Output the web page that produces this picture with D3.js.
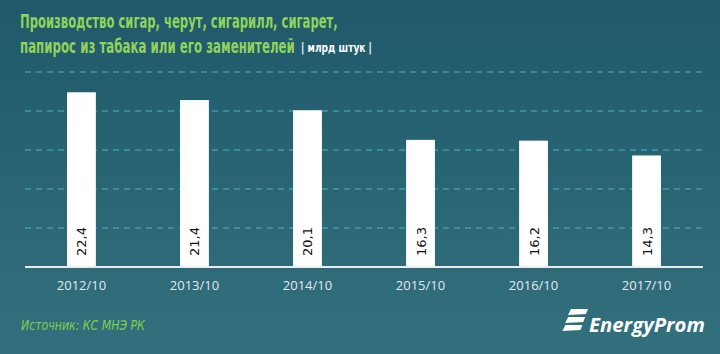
<!DOCTYPE html>
<html>
<head>
<meta charset="utf-8">
<script src="https://cdn.jsdelivr.net/npm/d3@7"></script>
<style>
  body { margin: 0; }
  svg { display: block; }
</style>
</head>
<body>
<svg id="svg" width="720" height="354"></svg>
<script>
// данные
var periods = ['2012/10', '2013/10', '2014/10', '2015/10', '2016/10', '2017/10'];
var values = [22.4, 21.4, 20.1, 16.3, 16.2, 14.3];
var gridTicks = [5, 10, 15, 20, 25];

var svg = d3.select('#svg');
var W = 720, H = 354;

// текст, сжатый по ширине через transform (узкий шрифт как в оригинале)
function fitText(sel, x, y, width) {
    var w = sel.node().getComputedTextLength();
    sel.attr('x', 0).attr('y', 0)
        .attr('transform', 'translate(' + x + ',' + y + ') scale(' + (width / w) + ',1)');
    return sel;
}

// фон
var defs = svg.append('defs');
var grad = defs.append('linearGradient').attr('id', 'bg')
    .attr('x1', 0).attr('y1', 0).attr('x2', 0).attr('y2', 1);
grad.append('stop').attr('offset', '0%').attr('stop-color', '#1f596a');
grad.append('stop').attr('offset', '100%').attr('stop-color', '#33707d');
svg.append('rect').attr('width', W).attr('height', H).attr('fill', 'url(#bg)');

// заголовок
fitText(svg.append('text')
    .attr('font-family', 'DejaVu Sans Condensed, DejaVu Sans')
    .attr('font-weight', 'bold').attr('font-size', 20)
    .attr('fill', '#8fd35a')
    .text('Производство сигар, черут, сигарилл, сигарет,'), 20, 28, 318);
fitText(svg.append('text')
    .attr('font-family', 'DejaVu Sans Condensed, DejaVu Sans')
    .attr('font-weight', 'bold').attr('font-size', 20)
    .attr('fill', '#8fd35a')
    .text('папирос из табака или его заменителей'), 20, 53, 275);
fitText(svg.append('text')
    .attr('font-family', 'DejaVu Sans Condensed, DejaVu Sans')
    .attr('font-weight', 'bold').attr('font-size', 13)
    .attr('fill', '#ffffff')
    .text('| млрд штук |'), 301, 52, 71);

// шкалы
var x = d3.scaleBand().domain(periods).range([25, 703]).paddingInner(0.745).paddingOuter(0.372);
var y = d3.scaleLinear().domain([0, 25]).range([267, 72]);

// сетка
svg.append('g')
    .selectAll('line').data(gridTicks).enter().append('line')
    .attr('x1', 25).attr('x2', 703)
    .attr('y1', d => y(d)).attr('y2', d => y(d))
    .attr('stroke', '#4cb6c6').attr('stroke-width', 1.2)
    .attr('stroke-dasharray', '6,5');

// столбцы
svg.append('g')
    .selectAll('rect').data(values).enter().append('rect')
    .attr('x', (d, i) => x(periods[i]))
    .attr('width', x.bandwidth())
    .attr('y', d => y(d))
    .attr('height', d => y(0) - y(d))
    .attr('fill', '#ffffff');

// подписи значений
svg.append('g')
    .selectAll('text').data(values).enter().append('text')
    .attr('transform', (d, i) => 'translate(' + (x(periods[i]) + x.bandwidth() / 2 + 5) + ',' + 256 + ') rotate(-90)')
    .attr('font-family', 'DejaVu Sans')
    .attr('font-size', 13)
    .attr('fill', '#111')
    .text(d => String(d).replace('.', ','));

// ось X
svg.append('line')
    .attr('x1', 25).attr('x2', 703).attr('y1', 267).attr('y2', 267)
    .attr('stroke', '#e8eef0').attr('stroke-width', 2);

var xAxis = svg.append('g')
    .attr('transform', 'translate(0,267)')
    .call(d3.axisBottom(x).tickSize(0).tickPadding(14));
xAxis.select('.domain').remove();
xAxis.selectAll('text')
    .attr('font-family', 'Open Sans').attr('font-size', 13)
    .attr('fill', '#e2eaec');

// источник
fitText(svg.append('text')
    .attr('font-family', 'DejaVu Sans Condensed, DejaVu Sans')
    .attr('font-style', 'italic').attr('font-size', 14)
    .attr('fill', '#7fcf4e')
    .text('Источник: КС МНЭ РК'), 21, 330, 124);

// логотип
var logo = svg.append('g').attr('transform', 'translate(562,309)');
[0, 8, 16].forEach(function (dy) {
    logo.append('path')
        .attr('d', 'M' + (9 - dy * 0.35) + ',' + dy + ' L' + (26 - dy * 0.35) + ',' + dy +
            ' L' + (24 - dy * 0.35) + ',' + (dy + 5) + ' L' + (6 - dy * 0.35) + ',' + (dy + 6) + ' Z')
        .attr('fill', '#ffffff');
});
fitText(svg.append('text')
    .attr('font-family', 'Open Sans')
    .attr('font-style', 'italic').attr('font-weight', 'bold').attr('font-size', 19)
    .attr('fill', '#ffffff')
    .text('EnergyProm'), 589, 332, 116);
</script>
</body>
</html>
